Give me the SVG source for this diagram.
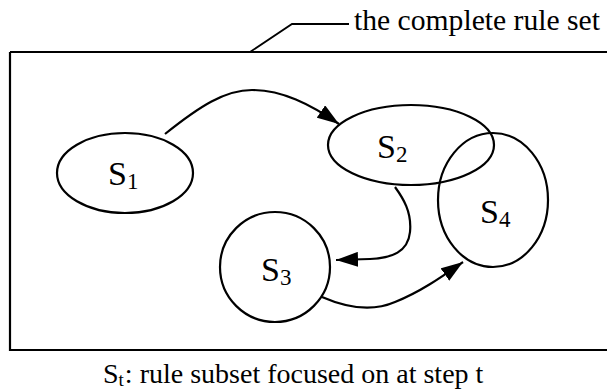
<svg xmlns="http://www.w3.org/2000/svg" width="607" height="392" viewBox="0 0 607 392">
<defs>
<style>
.ln{fill:none;stroke:#000;stroke-width:2.2}
.nd{fill:none;stroke:#000;stroke-width:2.2}
.tx{font-family:"Liberation Serif","Times New Roman",serif;fill:#000}
.lab{font-size:34px}
.sub{font-size:23px}
</style>
<marker id="ah" viewBox="0 0 22 15" refX="22" refY="7.5" markerWidth="22" markerHeight="15" markerUnits="userSpaceOnUse" orient="auto">
<path d="M0,0 L22,7.5 L0,15 Z" fill="#000"/>
</marker>
</defs>
<g id="frame">
<path class="ln" d="M10,52 H612 M10,52 V350 H612"/>
<path class="ln" d="M250,52 L292,24 H349" style="stroke-width:1.8"/>
<text class="tx" font-family="Liberation Serif, serif" x="354" y="30" font-size="30" textLength="246" lengthAdjust="spacingAndGlyphs">the complete rule set</text>
</g>
<g id="S1">
<ellipse class="nd" cx="125" cy="173" rx="68" ry="40"/>
<text class="tx lab" font-family="Liberation Serif, serif" x="108" y="185">S<tspan class="sub" dy="4">1</tspan></text>
</g>
<g id="S2">
<ellipse class="nd" cx="411" cy="145" rx="83" ry="40"/>
<text class="tx lab" font-family="Liberation Serif, serif" x="377" y="158">S<tspan class="sub" dy="4">2</tspan></text>
</g>
<g id="S4">
<ellipse class="nd" cx="493" cy="200" rx="55" ry="67"/>
<text class="tx lab" font-family="Liberation Serif, serif" x="480" y="223">S<tspan class="sub" dy="4">4</tspan></text>
</g>
<g id="S3">
<circle class="nd" cx="275" cy="267" r="55"/>
<text class="tx lab" font-family="Liberation Serif, serif" x="261" y="281">S<tspan class="sub" dy="4">3</tspan></text>
</g>
<g id="connectors">
<path class="ln" marker-end="url(#ah)" d="M165,134 C200,106 225,90 252,90 C282,90 310,104 339,124"/>
<path class="ln" marker-end="url(#ah)" d="M395,187 C403,198 412,212 410,232 C408,252 392,258 370,259 L336,260"/>
<path class="ln" marker-end="url(#ah)" d="M322,297 C345,307 372,312 395,302 C420,292 440,278 463,262"/>
</g>
<g id="caption">
<text class="tx" font-family="Liberation Serif, serif" x="103" y="383" font-size="28">S<tspan font-size="19" dy="3">t</tspan><tspan dy="-3" dx="1">: rule subset focused on at step t</tspan></text>
</g>
</svg>
